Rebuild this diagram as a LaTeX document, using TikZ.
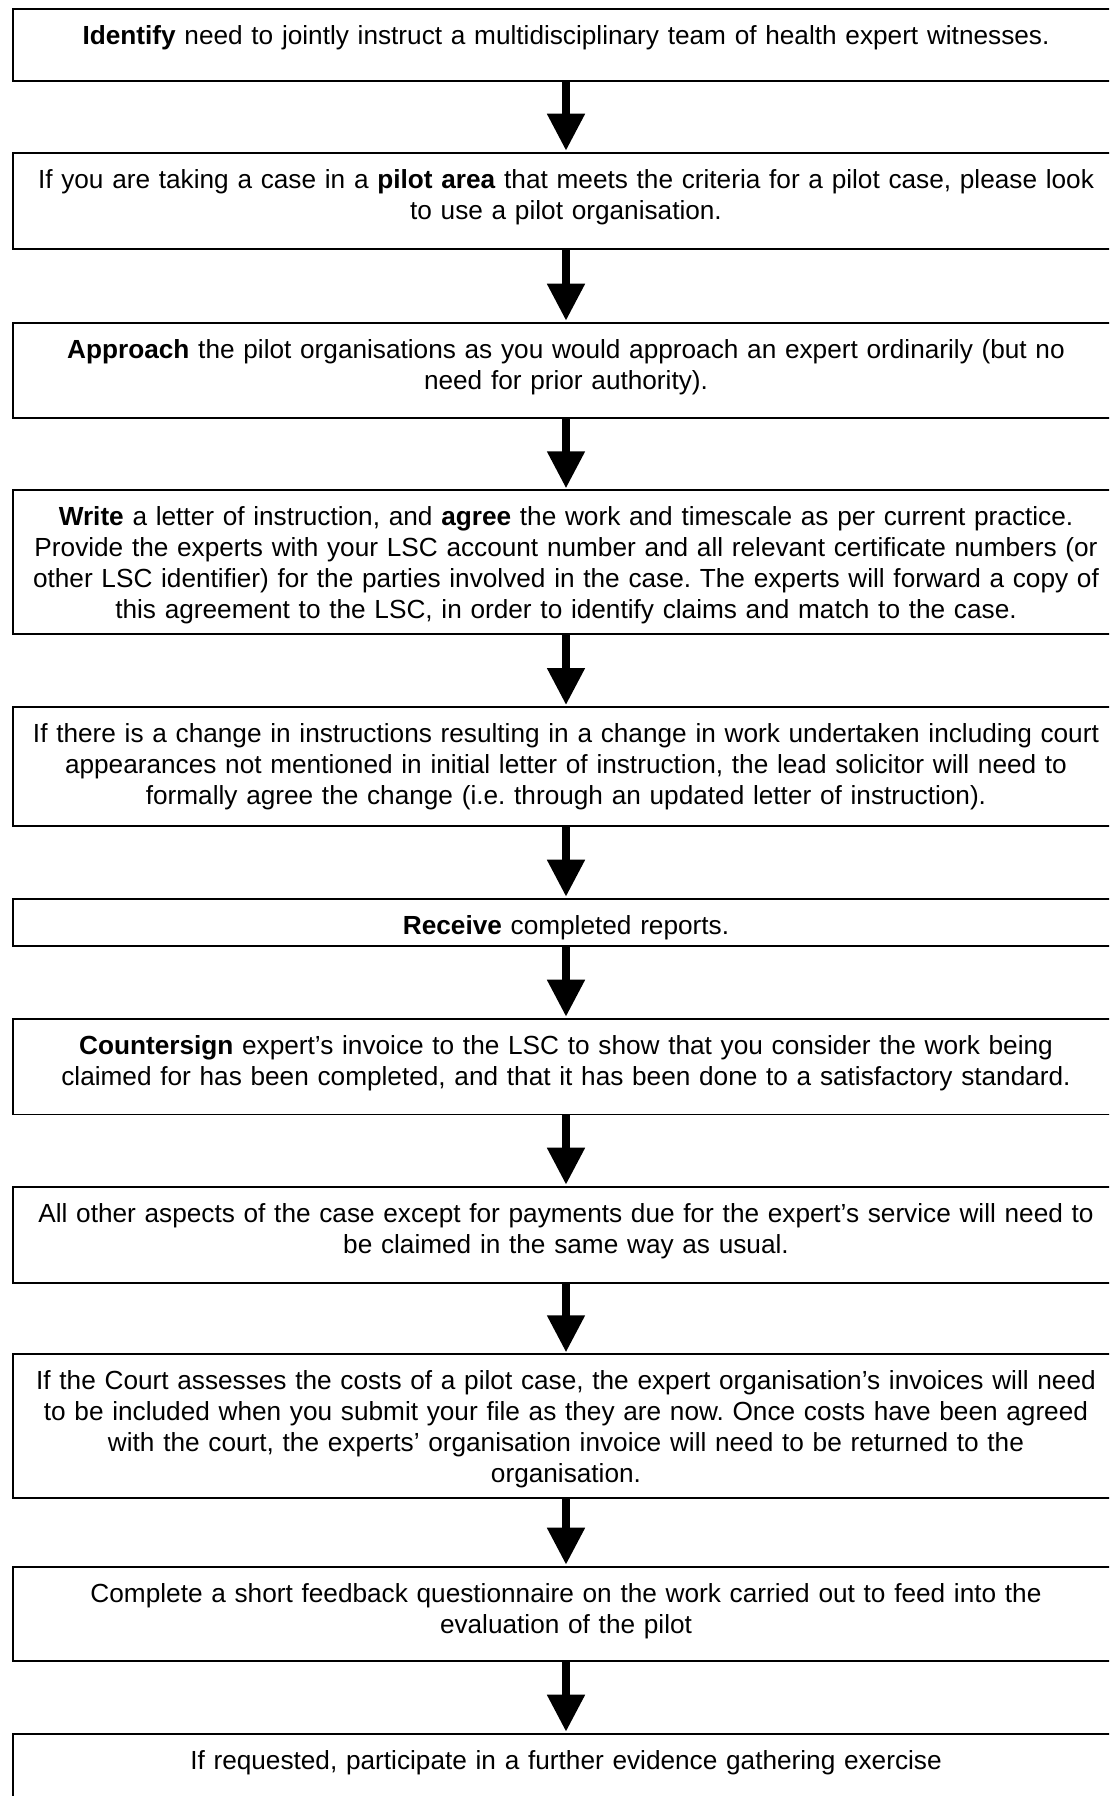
\documentclass[tikz,border=0pt]{standalone}
\usepackage{fontspec}
\setmainfont{Liberation Sans}
\usepackage{tikz}
\usetikzlibrary{arrows.meta}
\frenchspacing

\begin{document}
\begin{tikzpicture}[x=1pt, y=-1pt,
        stepbox/.style={draw, line width=1.8pt, anchor=north, text width=1090pt, align=center,
            inner xsep=8pt, inner ysep=0pt, text height=35.5pt, text depth=#1,
            font=\fontsize{26.2}{31}\selectfont},
        flow/.style={line width=8pt, -{Triangle[width=36pt, length=37pt]}, shorten >=1pt}]
    % Page
    \useasboundingbox (0,0) rectangle (1109,1796);
    \clip (0,0) rectangle (1109,1796);

    % Steps
    \node[stepbox=36pt] (identify) at (566,8.3) {\textbf{Identify} need to jointly instruct a multidisciplinary team of health expert witnesses.};
    \node[stepbox=60.6pt] (pilot) at (566,151.7) {If you are taking a case in a \textbf{pilot area} that meets the criteria for a pilot case, please look\\ to use a pilot organisation.};
    \node[stepbox=60pt] (approach) at (566,321.7) {\textbf{Approach} the pilot organisations as you would approach an expert ordinarily (but no\\ need for prior authority).};
    \node[stepbox=108pt] (write) at (566,489.3) {\textbf{Write} a letter of instruction, and \textbf{agree} the work and timescale as per current practice.\\ Provide the experts with your LSC account number and all relevant certificate numbers (or\\ other LSC identifier) for the parties involved in the case. The experts will forward a copy of\\ this agreement to the LSC, in order to identify claims and match to the case.};
    \node[stepbox=83.7pt] (change) at (566,706) {If there is a change in instructions resulting in a change in work undertaken including court\\ appearances not mentioned in initial letter of instruction, the lead solicitor will need to\\ formally agree the change (i.e. through an updated letter of instruction).};
    \node[stepbox=12pt] (receive) at (566,897.7) {\textbf{Receive} completed reports.};
    \node[stepbox=60.3pt] (countersign) at (566,1017.7) {\textbf{Countersign} expert’s invoice to the LSC to show that you consider the work being\\ claimed for has been completed, and that it has been done to a satisfactory standard.};
    \node[stepbox=60.6pt] (claim) at (566,1185.7) {All other aspects of the case except for payments due for the expert’s service will need to\\ be claimed in the same way as usual.};
    \node[stepbox=108.4pt] (assess) at (566,1353.3) {If the Court assesses the costs of a pilot case, the expert organisation’s invoices will need\\ to be included when you submit your file as they are now. Once costs have been agreed\\ with the court, the experts’ organisation invoice will need to be returned to the\\ organisation.};
    \node[stepbox=59pt] (feedback) at (566,1565.7) {Complete a short feedback questionnaire on the work carried out to feed into the\\ evaluation of the pilot};
    \node[stepbox=60pt] (evidence) at (566,1732.7) {If requested, participate in a further evidence gathering exercise};

    % Arrows
    \foreach \a/\b in {identify/pilot, pilot/approach, approach/write, write/change, change/receive,
            receive/countersign, countersign/claim, claim/assess, assess/feedback, feedback/evidence} {
        \draw[flow] (\a) -- (\b);
    }
\end{tikzpicture}
\end{document}
